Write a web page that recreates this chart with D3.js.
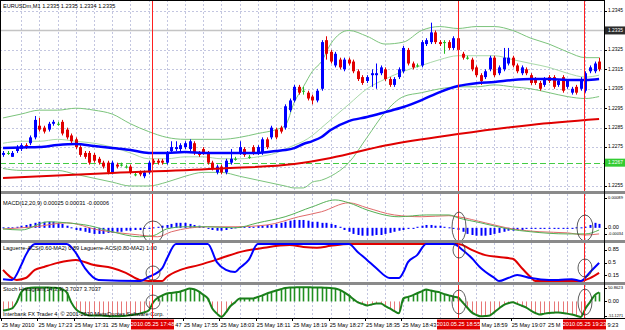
<!DOCTYPE html>
<html>
<head>
<meta charset="utf-8">
<script src="https://cdn.jsdelivr.net/npm/d3@7"></script>
<style>
body { margin: 0; background: #fff; }
text { font-family: "Liberation Sans", Arial, sans-serif; font-size: 5.6px; fill: #000; }
</style>
</head>
<body>
<div id="chart"></div>
<script>
// EURUSDm M1 candles, [open, high, low, close], one per minute from 17:15
var candles = [
[1.2271,1.2273,1.2270,1.2272],[1.2272,1.2273,1.2271,1.2272],[1.2270,1.2273,1.2270,1.2272],[1.2273,1.2276,1.2272,1.2275],
[1.2274,1.2277,1.2273,1.2276],[1.2276,1.2277,1.2274,1.2275],[1.2277,1.2281,1.2276,1.2280],[1.2280,1.2291,1.2279,1.2289],
[1.2286,1.2290,1.2283,1.2284],[1.2285,1.2286,1.2282,1.2283],[1.2284,1.2288,1.2283,1.2287],[1.2287,1.2289,1.2286,1.2288],
[1.2287,1.2288,1.2286,1.2287],[1.2288,1.2289,1.2281,1.2282],[1.2284,1.2285,1.2279,1.2280],[1.2281,1.2282,1.2277,1.2278],
[1.2279,1.2280,1.2274,1.2275],[1.2275,1.2276,1.2270,1.2271],[1.2272,1.2273,1.2269,1.2270],[1.2272,1.2273,1.2266,1.2267],
[1.2271,1.2272,1.2267,1.2268],[1.2269,1.2270,1.2266,1.2267],[1.2267,1.2268,1.2264,1.2265],[1.2267,1.2268,1.2261,1.2262],
[1.2262,1.2268,1.2261,1.2267],[1.2266,1.2267,1.2264,1.2265],[1.2266,1.2267,1.2265,1.2266],[1.2265,1.2266,1.2264,1.2265],
[1.2265,1.2266,1.2261,1.2262],[1.2261,1.2262,1.2260,1.2261],[1.2262,1.2263,1.2260,1.2261],[1.2260,1.2263,1.2259,1.2262],
[1.2262,1.2268,1.2261,1.2267],[1.2268,1.2269,1.2266,1.2267],[1.2268,1.2269,1.2266,1.2267],[1.2268,1.2269,1.2266,1.2267],
[1.2267,1.2273,1.2266,1.2272],[1.2273,1.2278,1.2272,1.2275],[1.2274,1.2278,1.2273,1.2275],[1.2274,1.2277,1.2273,1.2276],
[1.2275,1.2278,1.2274,1.2277],[1.2274,1.2279,1.2273,1.2278],[1.2277,1.2278,1.2271,1.2272],[1.2272,1.2273,1.2270,1.2271],
[1.2274,1.2275,1.2271,1.2272],[1.2272,1.2273,1.2266,1.2267],[1.2267,1.2268,1.2263,1.2264],[1.2262,1.2266,1.2261,1.2265],
[1.2265,1.2266,1.2261,1.2262],[1.2262,1.2269,1.2261,1.2268],[1.2267,1.2274,1.2266,1.2269],[1.2269,1.2270,1.2268,1.2269],
[1.2272,1.2278,1.2271,1.2275],[1.2274,1.2275,1.2270,1.2271],[1.2270,1.2271,1.2269,1.2270],[1.2275,1.2276,1.2271,1.2272],
[1.2272,1.2276,1.2271,1.2275],[1.2272,1.2280,1.2271,1.2279],[1.2279,1.2280,1.2274,1.2275],[1.2280,1.2286,1.2279,1.2285],
[1.2284,1.2285,1.2279,1.2280],[1.2285,1.2286,1.2282,1.2283],[1.2285,1.2297,1.2284,1.2296],[1.2294,1.2300,1.2293,1.2299],
[1.2299,1.2307,1.2298,1.2306],[1.2306,1.2307,1.2302,1.2303],[1.2304,1.2306,1.2302,1.2304],[1.2303,1.2304,1.2299,1.2300],
[1.2301,1.2302,1.2297,1.2299],[1.2299,1.2305,1.2298,1.2304],[1.2305,1.2330,1.2304,1.2329],[1.2330,1.2332,1.2320,1.2323],
[1.2324,1.2325,1.2318,1.2319],[1.2317,1.2324,1.2316,1.2323],[1.2320,1.2321,1.2315,1.2316],[1.2315,1.2321,1.2314,1.2320],
[1.2320,1.2321,1.2317,1.2318],[1.2319,1.2320,1.2313,1.2314],[1.2314,1.2315,1.2309,1.2310],[1.2311,1.2312,1.2307,1.2308],
[1.2309,1.2312,1.2308,1.2311],[1.2312,1.2315,1.2306,1.2313],[1.2312,1.2318,1.2305,1.2313],[1.2313,1.2317,1.2312,1.2316],
[1.2315,1.2316,1.2309,1.2310],[1.2310,1.2311,1.2306,1.2307],[1.2307,1.2311,1.2306,1.2310],[1.2311,1.2316,1.2310,1.2315],
[1.2314,1.2327,1.2313,1.2326],[1.2325,1.2326,1.2317,1.2318],[1.2318,1.2319,1.2315,1.2316],[1.2317,1.2318,1.2316,1.2317],
[1.2317,1.2330,1.2316,1.2329],[1.2328,1.2331,1.2327,1.2330],[1.2329,1.2339,1.2328,1.2334],[1.2334,1.2335,1.2328,1.2329],
[1.2329,1.2330,1.2327,1.2328],[1.2329,1.2330,1.2323,1.2329],[1.2329,1.2330,1.2325,1.2326],[1.2326,1.2332,1.2325,1.2331],
[1.2331,1.2332,1.2322,1.2325],[1.2323,1.2324,1.2320,1.2321],[1.2321,1.2322,1.2320,1.2321],[1.2320,1.2321,1.2314,1.2315],
[1.2316,1.2317,1.2311,1.2312],[1.2312,1.2313,1.2307,1.2309],[1.2311,1.2315,1.2310,1.2314],[1.2315,1.2322,1.2314,1.2321],
[1.2321,1.2322,1.2311,1.2312],[1.2313,1.2317,1.2312,1.2316],[1.2315,1.2326,1.2314,1.2321],[1.2318,1.2326,1.2317,1.2321],
[1.2321,1.2322,1.2316,1.2317],[1.2317,1.2318,1.2313,1.2314],[1.2313,1.2317,1.2312,1.2316],[1.2315,1.2316,1.2312,1.2313],
[1.2312,1.2313,1.2307,1.2308],[1.2310,1.2311,1.2307,1.2308],[1.2308,1.2309,1.2304,1.2305],[1.2307,1.2311,1.2306,1.2310],
[1.2311,1.2312,1.2308,1.2309],[1.2311,1.2312,1.2305,1.2306],[1.2307,1.2310,1.2306,1.2309],[1.2311,1.2312,1.2303,1.2304],
[1.2306,1.2310,1.2305,1.2309],[1.2303,1.2306,1.2302,1.2305],[1.2306,1.2307,1.2302,1.2303],[1.2305,1.2311,1.2304,1.2310],
[1.2304,1.2314,1.2303,1.2313],[1.2314,1.2317,1.2313,1.2316],[1.2314,1.2319,1.2313,1.2318],[1.2319,1.2321,1.2314,1.2315]
];

// moving average and bollinger bands, read at these bars
var maBars   = [0,4,8,12,16,20,24,28,32,36,40,44,48,52,56,60,62,64,66,68,70,72,76,80,84,88,92,96,100,104,108,112,116,120,124,128,131];
var bbUpper  = [1.2290,1.2292,1.2294,1.2294,1.2295,1.2294,1.2292,1.2287,1.2283,1.2280,1.2279,1.2279,1.2279,1.2280,1.2282,1.2284,1.2286,1.2298,1.2306,1.2314,1.2319,1.2328,1.2335,1.2332,1.2328,1.2329,1.2335,1.2337,1.2336,1.2337,1.2337,1.2335,1.2331,1.2328,1.2324,1.2321,1.2321];
var bbMiddle = [1.2277,1.2278,1.2278,1.2279,1.2278,1.2277,1.2275,1.2272,1.2269,1.2269,1.2270,1.2270,1.2269,1.2269,1.2270,1.2272,1.2274,1.2276,1.2278,1.2281,1.2285,1.2289,1.2297,1.2305,1.2310,1.2314,1.2317,1.2320,1.2322,1.2322,1.2322,1.2320,1.2318,1.2316,1.2313,1.2311,1.2312];
var bbLower  = [1.2264,1.2263,1.2263,1.2263,1.2261,1.2259,1.2257,1.2255,1.2255,1.2257,1.2260,1.2262,1.2262,1.2260,1.2258,1.2256,1.2255,1.2254,1.2254,1.2257,1.2258,1.2260,1.2267,1.2280,1.2293,1.2301,1.2303,1.2305,1.2306,1.2306,1.2307,1.2306,1.2305,1.2303,1.2301,1.2300,1.2301];
var maFast   = [1.22745,1.22748,1.22750,1.22761,1.22766,1.22756,1.22745,1.22735,1.22720,1.22720,1.22725,1.22720,1.22720,1.22720,1.22720,1.22730,1.22735,1.22745,1.22766,1.22781,1.22802,1.22838,1.22884,1.22905,1.22930,1.22956,1.22992,1.23033,1.23064,1.23079,1.23085,1.23095,1.23100,1.23100,1.23095,1.23095,1.23100];
var maSlowBars = [0,24,48,64,72,84,100,116,131];
var maSlow     = [1.22591,1.22617,1.22640,1.22663,1.22694,1.22758,1.22817,1.22864,1.22894];

// MACD(12,20,9)
var macdHist = [0,0,0,0.00003,0.00006,0.00008,0.00011,0.00014,0.00017,0.00017,
  0.00017,0.00017,0.00014,0.00011,0.00006,0,-0.00006,-0.00008,-0.00011,-0.00014,
  -0.00017,-0.00017,-0.00017,-0.00014,-0.00014,-0.00011,-0.00011,-0.00008,-0.00008,-0.00006,
  -0.00006,-0.00003,-0.00003,0,0.00003,0.00006,0.00008,0.00011,0.00014,0.00014,
  0.00014,0.00011,0.00008,0.00006,0.00003,-0.00003,-0.00006,-0.00008,-0.00008,-0.00006,
  -0.00003,0,0.00003,0.00003,0.00003,0.00003,0.00006,0.00006,0.00008,0.00008,
  0.00011,0.00014,0.00017,0.00020,0.00022,0.00022,0.00022,0.00020,0.00017,0.00017,
  0.00014,0.00014,0.00011,0.00008,0.00003,-0.00006,-0.00011,-0.00017,-0.00020,-0.00022,
  -0.00022,-0.00022,-0.00020,-0.00020,-0.00017,-0.00014,-0.00011,-0.00008,-0.00006,-0.00003,
  -0.00003,0.00003,0.00006,0.00008,0.00008,0.00006,0.00006,0.00003,0,-0.00003,
  -0.00006,-0.00011,-0.00017,-0.00020,-0.00022,-0.00022,-0.00022,-0.00020,-0.00017,-0.00014,
  -0.00011,-0.00008,-0.00008,-0.00006,-0.00006,-0.00003,-0.00003,-0.00003,-0.00003,-0.00003,
  -0.00003,-0.00003,-0.00003,-0.00003,-0.00003,-0.00003,0,0,0.00003,0.00008,
  0.00014,0.00011];
var macdMain = [[0,-0.00003],[4,-0.00006],[10,0.00017],[14,0.00014],[19,0.00006],[24,-0.00011],[30,-0.00025],[33,-0.00022],[36,-0.00003],[40,0.00003],[45,0.00003],[51,0],[56,0.00014],[62,0.00031],[68,0.00059],[73,0.00078],[76,0.00070],[80,0.00050],[87,0.00031],[93,0.00036],[98,0.00036],[100,0.00028],[105,0.00014],[111,-0.00003],[116,-0.00011],[124,-0.00017],[128,-0.00017],[131,-0.00006]];
var macdSignal = [[0,-0.00003],[7,0.00003],[14,0.00014],[21,-0.00006],[30,-0.00020],[34,-0.00025],[37,-0.00011],[45,0.00003],[51,0.00003],[58,0.00008],[65,0.00031],[70,0.00045],[76,0.00070],[80,0.00056],[86,0.00036],[92,0.00031],[98,0.00034],[100,0.00031],[106,0.00014],[112,-0.00003],[118,-0.00011],[124,-0.00014],[128,-0.00020],[131,-0.00017]];

// Laguerre-ACS 0.60 (blue) and 0.80 (red)
var lagFast = [[0,0.05],[2,0.03],[4,0.43],[5,0.7],[7,1],[14,1],[16,0.76],[18,0.35],[21,0.03],[30,0],[32,0.11],[35,0.35],[36,0.6],[38,1],[45,1],[47,0.51],[49,0.3],[51,0.24],[52,0.35],[54,0.57],[56,1],[76,1],[78,0.78],[80,0.57],[82,0.35],[85,0.08],[87,0.08],[88,0.24],[89,0.51],[91,0.7],[93,1],[99,1],[101,0.84],[103,0.62],[105,0.35],[108,0.08],[109,0],[111,0.08],[113,0.16],[116,0.08],[120,0.03],[122,0.03],[125,0.05],[127,0],[129,0.24],[131,0.49]];
var lagSlow = [[0,0.3],[3,0.03],[5,0.08],[7,0.3],[9,0.38],[12,0.49],[16,0.57],[20,0.43],[24,0.35],[27,0.22],[30,0.03],[32,0],[35,0],[36,0.11],[39,0.3],[43,0.43],[48,0.62],[52,0.78],[57,0.89],[63,0.97],[66,0.92],[69,0.9],[72,0.95],[76,1],[100,1],[101,0.97],[103,0.84],[106,0.7],[109,0.65],[112,0.6],[114,0.35],[116,0.1],[117,0],[127,0],[129,0.08],[131,0.22]];

// Stoch Histogram(14,3,3)
var stochHist = [-30,-27,-23,-3,30,43,45,46,46,46,46,45,44,40,30,-3,-25,-36,-42,-46,
  -46,-46,-47,-48,-49,-49,-48,-47,-45,-43,-40,-36,-30,-3,12,20,26,28,30,33,
  38,43,40,33,22,10,-23,-40,-51,-36,-15,-3,10,10,10,10,15,20,26,31,
  36,40,44,46,46,47,47,47,46,46,46,45,44,43,38,30,20,8,-3,-8,
  -13,-10,-7,-7,-15,-23,-32,-39,10,15,20,27,33,39,36,33,30,24,20,16,
  13,-3,-20,-36,-44,-49,-48,-46,-35,-23,-12,-6,-3,-8,-14,-20,-30,-38,-43,-40,
  -38,-37,-36,-38,-40,-43,-47,-51,-23,-2,20,30];

var priceTicks = [1.2345,1.2325,1.2315,1.2305,1.2295,1.2285,1.2275,1.2265,1.2255];
var bidPrice = 1.2335, levelPrice = 1.2267;
var tickBars = [0,8,16,24,32,40,48,56,64,72,80,88,96,104,112,120,128];
var tickLabels = ["25 May 2010","25 May 17:23","25 May 17:31","25 May 17:39","25 May 17:47","25 May 17:55","25 May 18:03","25 May 18:11","25 May 18:19","25 May 18:27","25 May 18:35","25 May 18:43","25 May 18:51","25 May 18:59","25 May 19:07","25 May 19:15","25 May 19:23"];
var markBars = [33,100,128];
var markLabels = ["2010.05.25 17:48","2010.05.25 18:55","2010.05.25 19:23"];

var W = 625, H = 330, plotR = 604;
var svg = d3.select("#chart").append("svg").attr("width", W).attr("height", H);
svg.append("rect").attr("width", W).attr("height", H).attr("fill", "#fff");

var x = d3.scaleLinear().domain([0, candles.length - 1]).range([3, 599.1]);
var yP = d3.scaleLinear().domain([1.2255, 1.2345]).range([186, 11]);
var yM = d3.scaleLinear().domain([-0.00034, 0.00089]).range([240, 196]);
var yL = d3.scaleLinear().domain([0, 1]).range([281, 244]);
var yS = d3.scaleLinear().domain([-51.1271, 50.8623]).range([317, 286]);

var panels = [{top: 0, bot: 191}, {top: 194, bot: 240}, {top: 243, bot: 282}, {top: 285, bot: 318}];
panels.forEach(function(p, i) {
    svg.append("clipPath").attr("id", "clip" + i).append("rect")
        .attr("x", 0).attr("y", p.top).attr("width", plotR).attr("height", p.bot - p.top);
});
function layer(i) { return svg.append("g").attr("clip-path", "url(#clip" + i + ")"); }
function px(v) { return Math.round(v) + 0.5; }

// grid
var gridColor = "#c3c6e0";
panels.forEach(function(p, i) {
    var g = layer(i);
    d3.range(4, candles.length, 4).forEach(function(b) {
        g.append("line").attr("x1", px(x(b))).attr("x2", px(x(b))).attr("y1", p.top).attr("y2", p.bot)
            .attr("stroke", gridColor).attr("stroke-dasharray", "2,2");
    });
});
var gMain = layer(0);
priceTicks.concat([bidPrice]).forEach(function(v) {
    gMain.append("line").attr("x1", 0).attr("x2", plotR).attr("y1", px(yP(v))).attr("y2", px(yP(v)))
        .attr("stroke", gridColor).attr("stroke-dasharray", "2,2");
});
// bid line and level line
gMain.append("line").attr("x1", 0).attr("x2", plotR).attr("y1", yP(bidPrice)).attr("y2", yP(bidPrice))
    .attr("stroke", "#c4c4c4").attr("stroke-width", 1.5);
gMain.append("line").attr("x1", 0).attr("x2", plotR).attr("y1", px(yP(levelPrice))).attr("y2", px(yP(levelPrice)))
    .attr("stroke", "#44cc44").attr("stroke-dasharray", "6,3");

// bands and moving averages
function series(bars, vals) { return bars.map(function(b, i) { return [b, vals[i]]; }); }
var priceLine = d3.line().x(function(d) { return x(d[0]); }).y(function(d) { return yP(d[1]); }).curve(d3.curveMonotoneX);
[[bbUpper, "#7cc47c"], [bbLower, "#7cc47c"], [bbMiddle, "#a9d9a9"]].forEach(function(s) {
    gMain.append("path").attr("d", priceLine(series(maBars, s[0]))).attr("fill", "none")
        .attr("stroke", s[1]).attr("stroke-width", 1);
});

// candles
var cw = 3;
var cg = gMain.append("g");
candles.forEach(function(c, i) {
    var o = c[0], h = c[1], l = c[2], cl = c[3];
    var col = cl > o ? "#0000ff" : (cl < o ? "#e00000" : "#22bb22");
    var cx = px(x(i));
    cg.append("line").attr("x1", cx).attr("x2", cx).attr("y1", yP(h)).attr("y2", yP(l)).attr("stroke", col);
    var top = yP(Math.max(o, cl)), bot = yP(Math.min(o, cl));
    cg.append("rect").attr("x", cx - cw / 2).attr("y", top).attr("width", cw)
        .attr("height", Math.max(1, bot - top)).attr("fill", col);
});

gMain.append("path").attr("d", priceLine(series(maSlowBars, maSlow))).attr("fill", "none")
    .attr("stroke", "#e00000").attr("stroke-width", 2);
gMain.append("path").attr("d", priceLine(series(maBars, maFast))).attr("fill", "none")
    .attr("stroke", "#0000ff").attr("stroke-width", 2.5);

gMain.append("text").attr("x", 3).attr("y", 8).text("EURUSDm,M1  1.2335 1.2335 1.2334 1.2335");

// MACD
var gM = layer(1);
macdHist.forEach(function(v, i) {
    var y0 = yM(0), y1 = yM(v);
    gM.append("rect").attr("x", Math.round(x(i)) - 0.5).attr("width", 2)
        .attr("y", Math.min(y0, y1) - (v === 0 ? 0.5 : 0)).attr("height", Math.max(1, Math.abs(y1 - y0)))
        .attr("fill", "#0000ff");
});
var macdLine = d3.line().x(function(d) { return x(d[0]); }).y(function(d) { return yM(d[1]); }).curve(d3.curveMonotoneX);
gM.append("path").attr("d", macdLine(macdSignal)).attr("fill", "none").attr("stroke", "#e06a6a").attr("stroke-width", 1);
gM.append("path").attr("d", macdLine(macdMain)).attr("fill", "none").attr("stroke", "#55b055").attr("stroke-width", 1);
gM.append("text").attr("x", 3).attr("y", 205).text("MACD(12,20,9) 0.00025 0.00031 -0.00006");

// Laguerre
var gL = layer(2);
var lagLine = d3.line().x(function(d) { return x(d[0]); }).y(function(d) { return yL(d[1]); }).curve(d3.curveMonotoneX);
gL.append("path").attr("d", lagLine(lagSlow)).attr("fill", "none").attr("stroke", "#e00000").attr("stroke-width", 2);
gL.append("path").attr("d", lagLine(lagFast)).attr("fill", "none").attr("stroke", "#0000ff").attr("stroke-width", 2);
gL.append("text").attr("x", 3).attr("y", 250).text("Laguerre-ACS(0.60-MA2) 0.89  Laguerre-ACS(0.80-MA2) 1.00");

// Stoch histogram
var gS = layer(3);
stochHist.forEach(function(v, i) {
    gS.append("line").attr("x1", px(x(i))).attr("x2", px(x(i)))
        .attr("y1", yS(0)).attr("y2", yS(v))
        .attr("stroke", v >= 0 ? "#1f8f1f" : "#e87878").attr("stroke-width", v >= 0 ? 1.6 : 1);
});
var stLine = d3.line().x(function(d, i) { return x(i); }).y(function(d) { return yS(d); }).curve(d3.curveMonotoneX);
gS.append("path").attr("d", stLine(stochHist)).attr("fill", "none").attr("stroke", "#1a7f1a").attr("stroke-width", 2);
gS.append("text").attr("x", 3).attr("y", 291).text("Stoch Histogram(14,3,3) 3.7037 3.7037");
gS.append("text").attr("x", 3).attr("y", 316).text("Interbank FX Trader 4, \u00a9 2001-2010 MetaQuotes Software Corp.");

// vertical marker lines, snapped to an even pixel column, and ellipses
function markX(b) { return 2 * Math.floor(x(b) / 2); }
markBars.forEach(function(b) {
    svg.append("rect").attr("x", markX(b)).attr("y", 0).attr("width", 1).attr("height", 318)
        .attr("fill", "#ff2020");
});
var ellipses = [
    [33, 232, 10, 11], [33, 273, 7, 7], [33, 302, 7, 7],
    [100, 227, 7, 15], [100, 250, 6, 8], [100, 302, 7, 12],
    [128, 228, 8, 13], [128, 268, 7, 9], [128, 302, 7, 13]
];
ellipses.forEach(function(e) {
    svg.append("ellipse").attr("cx", markX(e[0]) + 1).attr("cy", e[1]).attr("rx", e[2]).attr("ry", e[3])
        .attr("fill", "none").attr("stroke", "#333").attr("stroke-width", 0.8);
});

// separators and borders
[[191, 194], [240, 243], [282, 285]].forEach(function(s) {
    svg.append("rect").attr("x", 0).attr("y", s[0]).attr("width", W).attr("height", s[1] - s[0]).attr("fill", "#8a8a8a");
});
svg.append("line").attr("x1", 0).attr("x2", W).attr("y1", 318.5).attr("y2", 318.5).attr("stroke", "#000");
svg.append("line").attr("x1", plotR + 0.5).attr("x2", plotR + 0.5).attr("y1", 0).attr("y2", 318).attr("stroke", "#000");
svg.append("line").attr("x1", 0.5).attr("x2", 0.5).attr("y1", 0).attr("y2", 318).attr("stroke", "#000");
svg.append("line").attr("x1", 0).attr("x2", plotR).attr("y1", 0.5).attr("y2", 0.5).attr("stroke", "#000");

// right axis labels, smaller font where a label is wider than the axis strip
var axisRoom = W - plotR - 6;
function fit(t) {
    var w = t.node().getComputedTextLength();
    if (w > axisRoom) t.style("font-size", (5.6 * axisRoom / w).toFixed(2) + "px");
    return t;
}
function axisLabel(y, s) {
    svg.append("line").attr("x1", plotR).attr("x2", plotR + 3).attr("y1", px(y)).attr("y2", px(y)).attr("stroke", "#000");
    fit(svg.append("text").attr("x", plotR + 4).attr("y", y).attr("dominant-baseline", "middle").text(s));
}
// the green level box covers the nearby tick label, as in the terminal
priceTicks.filter(function(v) { return Math.abs(yP(v) - yP(levelPrice)) > 7; })
    .forEach(function(v) { axisLabel(yP(v), d3.format(".4f")(v)); });
function boxLabel(y, s, bg, fg) {
    svg.append("rect").attr("x", plotR + 1).attr("y", y - 4).attr("width", W - plotR - 1).attr("height", 8).attr("fill", bg);
    fit(svg.append("text").attr("x", plotR + 4).attr("y", y).attr("dominant-baseline", "middle").style("fill", fg).text(s));
}
boxLabel(yP(bidPrice), d3.format(".4f")(bidPrice), "#2b2b2b", "#fff");
boxLabel(yP(levelPrice), d3.format(".4f")(levelPrice), "#33cc33", "#fff");
axisLabel(yM(0.00089) + 2, "0.00089");
axisLabel(yM(0), "0.00");
axisLabel(yM(0) + 6, "-0.00034");
axisLabel(yL(0.85), "0.85");
axisLabel(yL(0.5), "0.5");
axisLabel(yL(0.15), "0.15");
axisLabel(yS(50.8623) + 2, "50.8623");
axisLabel(yS(0), "0.00");
axisLabel(yS(-51.1271) - 1, "-51.1271");

// time axis: the red marker boxes cover parts of the labels, show only what stays visible
var boxW = 43;
var boxes = markBars.map(function(b) { var c = markX(b) + 0.5; return [c - boxW / 2, c + boxW / 2]; });
var meas = svg.append("text").attr("x", -100).attr("y", -100);
function textW(s) { meas.text(s); return meas.node().getComputedTextLength(); }
tickBars.forEach(function(b, i) {
    var tx = x(b) - 1, s = tickLabels[i], w = textW(s);
    var box = boxes.filter(function(bx) { return tx < bx[1] && tx + w > bx[0]; })[0];
    if (!box) {
        svg.append("line").attr("x1", px(tx - 1)).attr("x2", px(tx - 1)).attr("y1", 318).attr("y2", 321).attr("stroke", "#000");
        svg.append("text").attr("x", tx).attr("y", 326).attr("dominant-baseline", "middle").text(s);
        return;
    }
    var k = s.length;
    while (k > 0 && tx + textW(s.slice(0, k)) > box[0] - 1) k--;
    var pre = s.slice(0, k).trim();
    if (pre) svg.append("text").attr("x", tx).attr("y", 326).attr("dominant-baseline", "middle").text(pre);
    var j = 0;
    while (j < s.length && tx + textW(s.slice(0, j)) < box[1] + 0.5) j++;
    var post = s.slice(j).trim();
    if (post && tx + w < W - 1) svg.append("text").attr("x", tx + textW(s.slice(0, s.length - post.length))).attr("y", 326)
        .attr("dominant-baseline", "middle").text(post);
    else if (post) {
        // the last label runs to the window edge: keep its visible tail inside the picture
        svg.append("text").attr("x", W - 1).attr("y", 326).attr("text-anchor", "end")
            .attr("dominant-baseline", "middle").text(post);
    }
});
meas.remove();
markBars.forEach(function(b, i) {
    var cx = markX(b) + 0.5;
    svg.append("rect").attr("x", cx - boxW / 2).attr("y", 319.5).attr("width", boxW).attr("height", 10).attr("fill", "#e00000");
    svg.append("text").attr("x", cx).attr("y", 325).attr("text-anchor", "middle").attr("dominant-baseline", "middle")
        .style("fill", "#fff").text(markLabels[i]);
});
</script>
</body>
</html>
